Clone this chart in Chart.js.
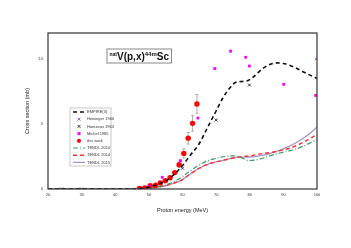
<!DOCTYPE html>
<html>
<head>
<meta charset="utf-8">
<script src="https://cdn.jsdelivr.net/npm/chart.js@4/dist/chart.umd.min.js"></script>
<style>
  body { margin: 0; background: #fff; }
  canvas { display: block; }
</style>
</head>
<body>
<canvas id="myChart" width="351" height="248"></canvas>
<script>
// values (energy in MeV, cross section in mb)
const xTicks = [20, 30, 40, 50, 60, 70, 80, 90, 100];
const yTicks = [0, 5, 10];

const empireE = [20, 45, 47, 50, 53, 55, 57, 60, 62, 65, 67, 70, 72, 74, 76, 79, 81, 84, 88, 90, 93, 96, 100];
const empireS = [0, 0, 0.03, 0.15, 0.4, 0.62, 1.0, 1.8, 2.5, 3.5, 4.5, 6.0, 7.0, 7.75, 8.22, 8.3, 8.6, 9.3, 9.7, 9.65, 9.4, 9.0, 8.5];

const tendl10E = [20, 45, 48, 50, 53, 55, 58, 60, 62, 64, 66, 68, 71, 75, 77, 80, 83, 86, 89, 92, 95, 100];
const tendl10S = [0, 0, 0.02, 0.06, 0.18, 0.3, 0.65, 0.95, 1.35, 1.7, 2.0, 2.22, 2.42, 2.55, 2.45, 2.18, 2.3, 2.55, 2.77, 2.95, 3.2, 3.8];

const tendl14E = [20, 45, 48, 50, 53, 55, 58, 60, 62, 65, 68, 72, 75, 78, 80, 83, 86, 89, 92, 96, 100];
const tendl14S = [0, 0, 0.02, 0.05, 0.15, 0.25, 0.5, 0.72, 1.1, 1.6, 1.95, 2.2, 2.38, 2.5, 2.55, 2.7, 2.8, 2.95, 3.15, 3.6, 4.2];

const tendl15E = [20, 45, 48, 50, 53, 55, 58, 60, 62, 65, 68, 72, 75, 78, 80, 84, 88, 91, 94, 97, 100];
const tendl15S = [0, 0, 0.02, 0.05, 0.15, 0.25, 0.5, 0.72, 1.1, 1.6, 1.95, 2.2, 2.38, 2.45, 2.46, 2.6, 2.9, 3.2, 3.6, 4.1, 4.75];

const heiningerE = [99.8];
const heiningerS = [10.0];

const hontzeasE = [24, 30, 60, 70, 79.9];
const hontzeasS = [0, 0, 1.6, 5.3, 8.0];

const michelE = [50, 54, 59.4, 64.6, 69.6, 74.3, 78.8, 79.9, 90.1, 99.6];
const michelS = [0.2, 0.9, 2.18, 5.46, 9.26, 10.6, 10.13, 9.46, 8.05, 7.2];

const workE = [47.2, 48.8, 50.4, 52.0, 53.4, 54.9, 56.3, 57.7, 59.0, 60.4, 61.7, 63.0, 64.3];
const workS = [0.05, 0.08, 0.26, 0.3, 0.46, 0.64, 0.87, 1.26, 1.87, 2.74, 3.9, 5.05, 6.54];
const workErr = [0.02, 0.02, 0.04, 0.04, 0.06, 0.07, 0.09, 0.12, 0.2, 0.35, 0.45, 0.6, 0.72];

const toPts = (xs, ys) => xs.map((x, i) => ({ x: x, y: ys[i] }));

const FONT = "'Liberation Sans', Arial, sans-serif";

const datasets = [
  { label: "EMPIRE(3)", data: toPts(empireE, empireS), showLine: true, pointRadius: 0,
    borderColor: "#111", borderWidth: 1.6, borderDash: [4, 3], cubicInterpolationMode: "monotone", kind: "line" },
  { label: "Heininger 1966", data: toPts(heiningerE, heiningerS), pointStyle: "crossRot",
    pointRadius: 2, borderColor: "#9a4fc0", backgroundColor: "#9a4fc0", borderWidth: 1, kind: "point" },
  { label: "Hontzeas 1963", data: toPts(hontzeasE, hontzeasS), pointStyle: "crossRot",
    pointRadius: 2, borderColor: "#333", backgroundColor: "#333", borderWidth: 1, kind: "point" },
  { label: "Michel 1985", data: toPts(michelE, michelS), pointStyle: "rect",
    pointRadius: 2, borderColor: "#ff00ff", backgroundColor: "#ff00ff", borderWidth: 0, kind: "point" },
  { label: "this work", data: toPts(workE, workS), pointStyle: "circle",
    pointRadius: 2.7, borderColor: "#ff0000", backgroundColor: "#ff0000", borderWidth: 0, kind: "point" },
  { label: "TENDL 2010", data: toPts(tendl10E, tendl10S), showLine: true, pointRadius: 0,
    borderColor: "#3f9a6e", borderWidth: 1.2, borderDash: [5, 2, 1, 2], cubicInterpolationMode: "monotone", kind: "line" },
  { label: "TENDL 2014", data: toPts(tendl14E, tendl14S), showLine: true, pointRadius: 0,
    borderColor: "#ff3030", borderWidth: 1.4, borderDash: [4, 3], cubicInterpolationMode: "monotone", kind: "line" },
  { label: "TENDL 2015", data: toPts(tendl15E, tendl15S), showLine: true, pointRadius: 0,
    borderColor: "#a893c9", borderWidth: 1.3, cubicInterpolationMode: "monotone", kind: "line" }
];

// frame, error bars, boxed title, legend
const extras = {
  id: "extras",
  beforeDatasetsDraw(chart) {
    const { ctx, scales: { x, y } } = chart;
    ctx.save();
    ctx.strokeStyle = "#999";
    ctx.lineWidth = 0.8;
    workE.forEach((e, i) => {
      const px = x.getPixelForValue(e);
      const y1 = y.getPixelForValue(workS[i] - workErr[i]);
      const y2 = y.getPixelForValue(workS[i] + workErr[i]);
      ctx.beginPath();
      ctx.moveTo(px, y1); ctx.lineTo(px, y2);
      ctx.moveTo(px - 1.5, y1); ctx.lineTo(px + 1.5, y1);
      ctx.moveTo(px - 1.5, y2); ctx.lineTo(px + 1.5, y2);
      ctx.stroke();
    });
    ctx.restore();
  },
  afterDatasetsDraw(chart) {
    const { ctx, chartArea: a } = chart;
    ctx.save();
    ctx.strokeStyle = "#333";
    ctx.lineWidth = 1.2;
    ctx.strokeRect(a.left, a.top, a.right - a.left, a.bottom - a.top);

    // title box
    const parts = [
      { t: "nat", f: "bold 5px " + FONT, dy: -4 },
      { t: "V(p,x)", f: "bold 10px " + FONT, dy: 0 },
      { t: "44m", f: "bold 6px " + FONT, dy: -4 },
      { t: "Sc", f: "bold 10px " + FONT, dy: 0 }
    ];
    let w = 0;
    parts.forEach(p => { ctx.font = p.f; p.w = ctx.measureText(p.t).width; w += p.w; });
    const bx = 107, by = 49, bh = 14, bw = w + 5;
    ctx.fillStyle = "#fff";
    ctx.fillRect(bx, by, bw, bh);
    ctx.strokeStyle = "#888";
    ctx.lineWidth = 1;
    ctx.strokeRect(bx, by, bw, bh);
    ctx.fillStyle = "#111";
    ctx.textBaseline = "alphabetic";
    let cx = bx + 2.5;
    parts.forEach(p => { ctx.font = p.f; ctx.fillText(p.t, cx, by + 10.5 + p.dy); cx += p.w; });

    // legend
    const lx = 70, ly = 108, lw = 41, lh = 58;
    ctx.fillStyle = "#fff";
    ctx.fillRect(lx, ly, lw, lh);
    ctx.strokeStyle = "#bbb";
    ctx.lineWidth = 0.8;
    ctx.strokeRect(lx, ly, lw, lh);
    ctx.font = "4px " + FONT;
    ctx.textBaseline = "middle";
    chart.data.datasets.forEach((d, i) => {
      const yy = ly + 4 + i * 7.2;
      if (d.kind === "line") {
        ctx.save();
        ctx.strokeStyle = d.borderColor;
        ctx.lineWidth = d.borderWidth;
        ctx.setLineDash(d.borderDash || []);
        ctx.beginPath();
        ctx.moveTo(lx + 3, yy); ctx.lineTo(lx + 15, yy);
        ctx.stroke();
        ctx.restore();
      } else {
        ctx.save();
        ctx.fillStyle = d.backgroundColor;
        ctx.strokeStyle = d.borderColor;
        ctx.lineWidth = d.borderWidth;
        ctx.beginPath();
        if (d.pointStyle === "circle") {
          ctx.arc(lx + 9, yy, 2.1, 0, Math.PI * 2); ctx.fill();
        } else if (d.pointStyle === "rect") {
          ctx.fillRect(lx + 7.5, yy - 1.5, 3, 3);
        } else {
          ctx.moveTo(lx + 7.6, yy - 1.4); ctx.lineTo(lx + 10.4, yy + 1.4);
          ctx.moveTo(lx + 10.4, yy - 1.4); ctx.lineTo(lx + 7.6, yy + 1.4);
          ctx.stroke();
        }
        ctx.restore();
      }
      ctx.fillStyle = "#333";
      ctx.fillText(d.label, lx + 17, yy);
    });
    ctx.restore();
  }
};

new Chart(document.getElementById("myChart"), {
  type: "scatter",
  data: { datasets: datasets },
  options: {
    responsive: false,
    animation: false,
    layout: { padding: { left: 0, right: 34, top: 33, bottom: 0 } },
    plugins: { legend: { display: false }, tooltip: { enabled: false } },
    scales: {
      x: {
        type: "linear", min: 20, max: 100,
        afterFit: (s) => { s.height = 59; },
        afterBuildTicks: (s) => { s.ticks = xTicks.map(v => ({ value: v })); },
        grid: { display: false, drawTicks: false },
        border: { display: false },
        ticks: { font: { size: 4, family: FONT }, color: "#333", padding: 3 },
        title: { display: true, text: "Proton energy (MeV)", color: "#222",
          font: { size: 5.5, family: FONT }, padding: { top: 0, bottom: 34 } }
      },
      y: {
        type: "linear", min: 0, max: 12,
        afterFit: (s) => { s.width = 48; },
        afterBuildTicks: (s) => { s.ticks = yTicks.map(v => ({ value: v })); },
        grid: { display: false, drawTicks: false },
        border: { display: false },
        ticks: { font: { size: 4, family: FONT }, color: "#333", padding: 5 },
        title: { display: true, text: "Cross section (mb)", color: "#222",
          font: { size: 5.5, family: FONT }, padding: { top: 24, bottom: 0 } }
      }
    }
  },
  plugins: [extras]
});
</script>
</body>
</html>
